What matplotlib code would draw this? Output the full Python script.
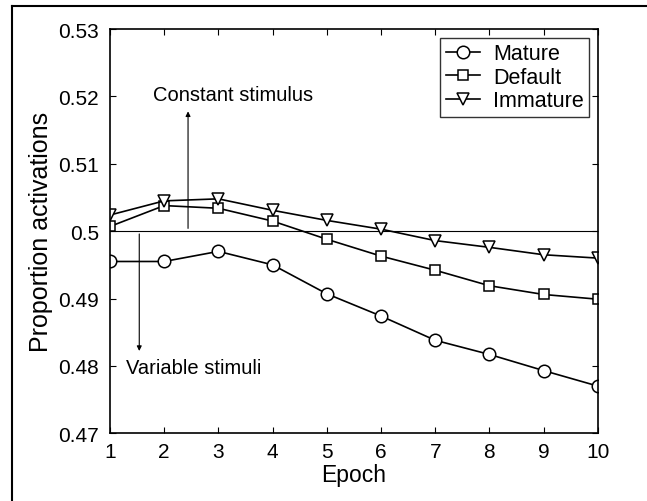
import numpy as np
import matplotlib
matplotlib.use("Agg")
import matplotlib.pyplot as plt
from matplotlib.lines import Line2D

plt.rcParams['font.family'] = ['Liberation Sans', 'DejaVu Sans']

# Daten
epochs = [1, 2, 3, 4, 5, 6, 7, 8, 9, 10]
mature = [0.4955, 0.4955, 0.4970, 0.4950, 0.4907, 0.4874, 0.4838, 0.4817, 0.4793, 0.4770]
default = [0.5007, 0.5038, 0.5034, 0.5015, 0.4988, 0.4963, 0.4942, 0.4919, 0.4906, 0.4899]
immature = [0.5024, 0.5045, 0.5048, 0.5031, 0.5016, 0.5003, 0.4986, 0.4976, 0.4965, 0.4960]
yticks = [0.47, 0.48, 0.49, 0.5, 0.51, 0.52, 0.53]
ytick_labels = ['0.47', '0.48', '0.49', '0.5', '0.51', '0.52', '0.53']

fig = plt.figure(figsize=(6.47, 5.02), dpi=100)
ax = fig.add_axes([0.170, 0.135, 0.754, 0.805])

mk = dict(color='black', lw=1.2, markerfacecolor='white', markeredgecolor='black',
          markeredgewidth=1.1, markersize=9)
ax.plot(epochs, mature, marker='o', label='Mature', **mk)
ax.plot(epochs, default, marker='s', label='Default', **dict(mk, markersize=7))
ax.plot(epochs, immature, marker='v', label='Immature', **mk)

# Referenzlinie bei 0.5
ax.axhline(0.5, color='black', lw=0.8, zorder=1)

# Pfeile und Beschriftungen
ax.annotate('', xy=(2.44, 0.5182), xytext=(2.44, 0.5),
            arrowprops=dict(arrowstyle='-|>', color='black', lw=0.8, mutation_scale=7))
ax.text(3.27, 0.5203, 'Constant stimulus', ha='center', va='center', fontsize=14.5)
ax.annotate('', xy=(1.54, 0.4818), xytext=(1.54, 0.5),
            arrowprops=dict(arrowstyle='-|>', color='black', lw=0.8, mutation_scale=7))
ax.text(1.29, 0.4797, 'Variable stimuli', ha='left', va='center', fontsize=14.5)

ax.set_xlim(1, 10)
ax.set_ylim(0.47, 0.53)
ax.set_xticks(epochs)
ax.set_yticks(yticks)
ax.set_yticklabels(ytick_labels)
ax.tick_params(direction='in', top=True, right=True, labelsize=15, length=4, width=0.8)
ax.tick_params(axis='x', pad=6)
ax.tick_params(axis='y', pad=8)
for s in ax.spines.values():
    s.set_linewidth(1.2)
ax.set_xlabel('Epoch', fontsize=16.5, labelpad=2)
ax.set_ylabel('Proportion activations', fontsize=18, labelpad=4)

leg = ax.legend(loc='upper right', fontsize=15.5, frameon=True, fancybox=False,
                edgecolor='black', handlelength=1.6, handletextpad=0.6,
                borderpad=0.25, labelspacing=0.12, borderaxespad=0.4)
leg.get_frame().set_linewidth(1.0)

# Rahmen links und oben
fig.add_artist(Line2D([0.019, 0.019], [0, 0.986], color='black', lw=1.5, transform=fig.transFigure))
fig.add_artist(Line2D([0.019, 1.0], [0.986, 0.986], color='black', lw=1.5, transform=fig.transFigure))

fig.savefig('out.png', dpi=100)
